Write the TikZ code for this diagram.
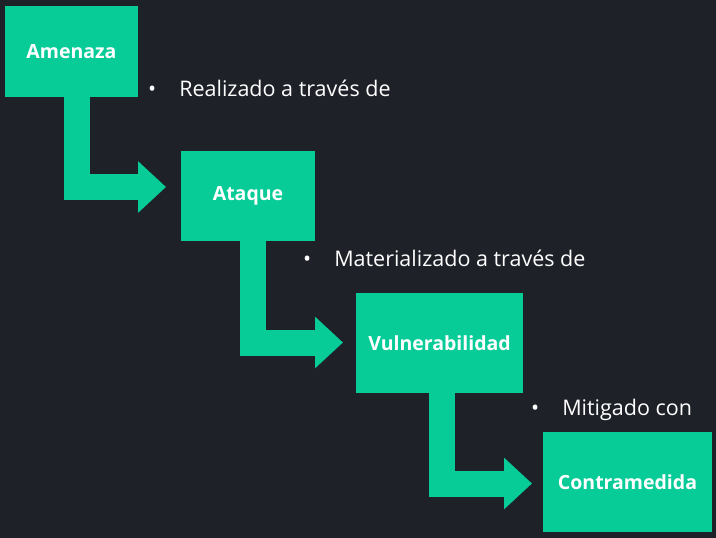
\documentclass[tikz,border=0pt]{standalone}
\usepackage{fontspec}
\setmainfont{Open Sans}
\usetikzlibrary{arrows.meta}
\definecolor{bg}{HTML}{1E2128}
\definecolor{grn}{HTML}{07CC98}
\tikzset{
 box/.style={fill=grn,draw=none,text=white,font=\bfseries\fontsize{19.5}{22}\selectfont,inner sep=0pt},
 flow/.style={draw=grn,line width=26pt,line join=miter,-{Triangle[width=50pt,length=28pt]}},
 lab/.style={text=white,anchor=west,font=\fontsize{21.5}{24}\selectfont,inner sep=0pt}
}
\begin{document}
\begin{tikzpicture}[x=1pt,y=-1pt]
\fill[bg] (0,0) rectangle (716,538);
\useasboundingbox (0,0) rectangle (716,538);
\node[box,minimum width=133pt,minimum height=91pt] (a) at (71.5,51.5) {Amenaza};
\node[box,minimum width=134pt,minimum height=90pt] (b) at (248,196) {Ataque};
\node[box,minimum width=167pt,minimum height=100pt] (c) at (439.5,343) {Vulnerabilidad};
\node[box,minimum width=169pt,minimum height=100pt] (d) at (627.5,482) {Contramedida};
\coordinate (t1) at (166,187);
\coordinate (t2) at (343,342.5);
\coordinate (t3) at (532,483.5);
\draw[flow] ([xshift=5pt]a.south) |- (t1);
\draw[flow] ([xshift=4.5pt]b.south) |- (t2);
\draw[flow] ([xshift=2pt]c.south) |- (t3);
\node[lab] (l1) at (148,88) {\textbullet\hspace{23pt}Realizado a través de};
\node[lab] (l2) at (303,258) {\textbullet\hspace{23pt}Materializado a través de};
\node[lab] (l3) at (531,410) {\textbullet\hspace{23pt}Mitigado con};
\end{tikzpicture}
\end{document}
